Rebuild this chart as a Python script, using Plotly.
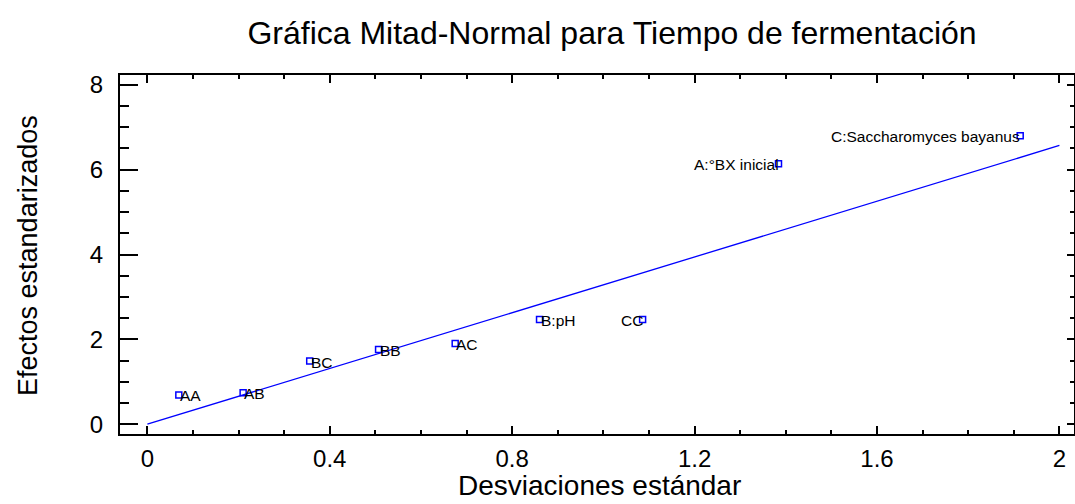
import plotly.graph_objects as go

# ---- data ----
effect_labels = ["AA", "AB", "BC", "BB", "AC", "B:pH", "CC", "A:°BX inicial", "C:Saccharomyces bayanus"]
std_devs = [0.069, 0.210, 0.356, 0.507, 0.675, 0.860, 1.086, 1.384, 1.914]
std_effects = [0.69, 0.74, 1.49, 1.76, 1.90, 2.47, 2.47, 6.14, 6.80]
label_sides = ["right", "right", "right", "right", "right", "right", "left", "left", "left"]
ref_line_x = [0, 2]
ref_line_y = [0, 6.57]
x_tickvals = [0, 0.4, 0.8, 1.2, 1.6, 2.0]
x_ticktext = ["0", "0.4", "0.8", "1.2", "1.6", "2"]
y_tickvals = [0, 2, 4, 6, 8]

FONT = "Liberation Sans, Arial, sans-serif"
BLUE = "rgb(0,0,255)"

fig = go.Figure()
fig.add_trace(go.Scatter(x=ref_line_x, y=ref_line_y, mode="lines",
                         line=dict(color=BLUE, width=1.3), showlegend=False, hoverinfo="skip"))
fig.add_trace(go.Scatter(x=std_devs, y=std_effects, mode="markers",
                         marker=dict(symbol="square-open", size=6, color=BLUE, line=dict(width=1.5, color=BLUE)),
                         showlegend=False))
# invisible trace to carry right-hand axis
fig.add_trace(go.Scatter(x=[None], y=[None], yaxis="y2", showlegend=False, hoverinfo="skip"))

for lab, xv, yv, side in zip(effect_labels, std_devs, std_effects, label_sides):
    fig.add_annotation(x=xv, y=yv, text=lab, showarrow=False, xref="x", yref="y",
                       xanchor="left" if side == "right" else "right",
                       xshift=-1 if side == "right" else 2, yshift=-1,
                       font=dict(family=FONT, size=15.5, color="black"))

fig.add_annotation(text="Desviaciones estándar", xref="paper", yref="paper", x=0.503, y=-0.143,
                   xanchor="center", yanchor="middle", showarrow=False,
                   font=dict(family=FONT, size=28, color="black"))
fig.add_annotation(text="Efectos estandarizados", xref="paper", yref="paper", x=-0.0964, y=0.496,
                   xanchor="center", yanchor="middle", showarrow=False, textangle=-90,
                   font=dict(family=FONT, size=27, color="black"))

fig.update_layout(
    width=1075, height=504,
    margin=dict(l=120, r=1, t=75, b=70),
    paper_bgcolor="white", plot_bgcolor="white",
    title=dict(text="Gráfica Mitad-Normal para Tiempo de fermentación", xref="container", yref="container",
               x=0.5693, y=0.9345, xanchor="center", yanchor="middle",
               font=dict(family=FONT, size=32, color="black")),
    xaxis=dict(range=[-0.06, 2.032], showgrid=False, zeroline=False,
               showline=True, linecolor="black", linewidth=2, mirror="ticks",
               ticks="inside", ticklen=8, tickwidth=1.5, tickcolor="black",
               tickmode="array", tickvals=x_tickvals, ticktext=x_ticktext,
               minor=dict(dtick=0.1, tick0=0, ticks="inside", ticklen=4, tickwidth=1.5, tickcolor="black"),
               tickfont=dict(family=FONT, size=24, color="black"), ticklabelstandoff=2),
    yaxis=dict(range=[-0.23, 8.23], showgrid=False, zeroline=False,
               showline=True, linecolor="black", linewidth=2,
               ticks="inside", ticklen=18, tickwidth=1.5, tickcolor="black",
               tickmode="array", tickvals=y_tickvals,
               minor=dict(dtick=0.5, tick0=0, ticks="inside", ticklen=9, tickwidth=1.5, tickcolor="black"),
               tickfont=dict(family=FONT, size=24, color="black"), ticklabelstandoff=10),
    yaxis2=dict(range=[-0.23, 8.23], overlaying="y", side="right", showgrid=False, zeroline=False,
                showline=True, linecolor="black", linewidth=2, showticklabels=False,
                ticks="inside", ticklen=7, tickwidth=1.5, tickcolor="black",
                tickmode="array", tickvals=y_tickvals,
                minor=dict(dtick=0.5, tick0=0, ticks="inside", ticklen=4, tickwidth=1.5, tickcolor="black")),
)

fig.write_html("out.html")
